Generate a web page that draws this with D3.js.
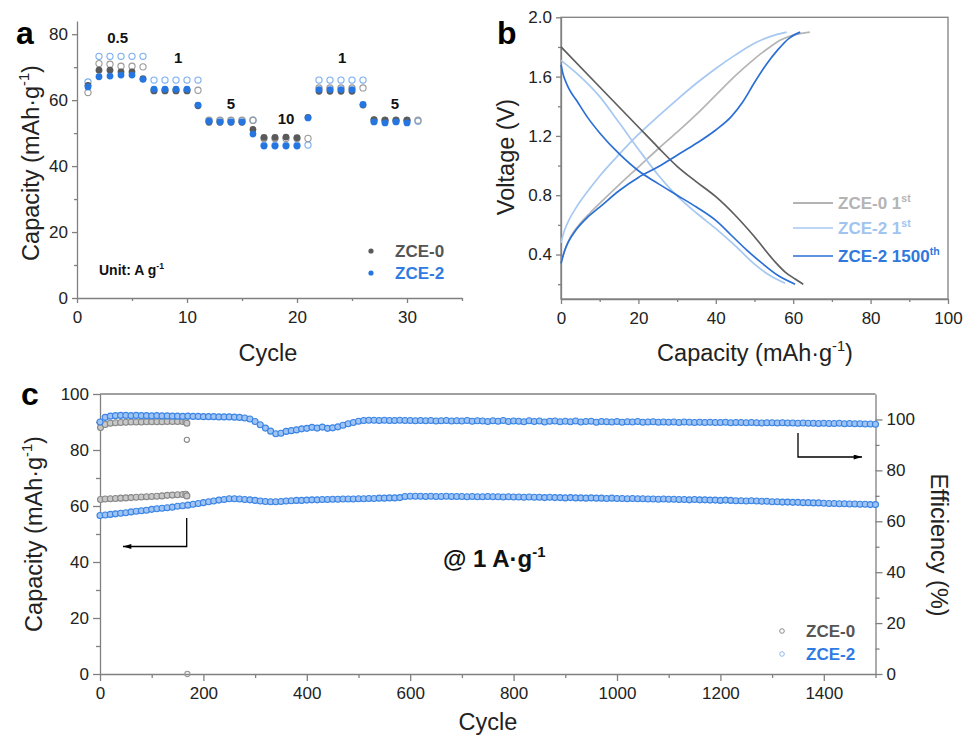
<!DOCTYPE html>
<html><head><meta charset="utf-8">
<script src="https://cdn.jsdelivr.net/npm/d3@7"></script>
<style>body{margin:0;background:#fff} svg{display:block;font-family:Arial,"Liberation Sans",Helvetica,sans-serif}</style>
</head><body><svg id="c" width="965" height="742"></svg>
<script>
// ---------------- Panel a data (rate performance) ----------------
const cyclesA = [1,2,3,4,5,6,7,8,9,10,11,12,13,14,15,16,17,18,19,20,21,22,23,24,25,26,27,28,29,30,31];
const a_zce0_fill = [64.5,69.1,69.1,68.6,68.6,66.5,62.8,62.8,62.8,62.8,58.3,53.3,53.3,53.3,53.3,51.1,48.7,48.7,48.8,48.6,54.8,62.7,62.7,62.7,62.7,58.5,54.1,53.9,53.9,53.9,null];
const a_zce2_fill = [64.0,67.1,67.3,67.6,67.6,66.3,63.3,63.3,63.3,63.3,58.5,53.6,53.4,53.4,53.4,49.7,46.1,46.1,46.1,46.1,54.6,63.2,63.2,63.2,63.2,58.7,53.4,53.1,53.4,53.1,null];
const a_zce0_open = [62.3,71.1,70.9,70.3,70.3,70.1,63.0,63.0,63.0,63.0,63.0,53.9,53.9,53.9,53.9,53.9,48.4,48.4,48.4,48.4,48.4,63.7,63.7,63.7,63.7,63.7,53.9,53.9,53.9,53.9,53.9];
const a_zce2_open = [65.5,73.3,73.3,73.3,73.3,73.3,66.1,66.1,66.1,66.1,66.1,53.8,53.8,53.8,53.8,53.9,46.3,46.3,46.3,46.3,46.4,66.1,66.1,66.1,66.1,66.1,53.6,53.6,53.6,53.6,53.6];
const rateLabels = ["0.5","1","5","10","1","5"];
const rateCycles = [3.7,9.2,14,19,24.1,28.9];
const rateValues = [77.2,71.2,57.2,52.9,71.2,57.3];

// ---------------- Panel b data (charge/discharge curves) ----------------
const b_zce0_dis = [[0,1.80],[10,1.53],[20,1.26],[25,1.125],[30,0.995],[35,0.89],[40,0.79],[45,0.665],[50,0.52],[55,0.36],[58,0.28],[60.5,0.235],[62.6,0.20]];
const b_zce0_chg = [[0,0.35],[1,0.43],[2.5,0.52],[5,0.61],[7.5,0.68],[10,0.745],[15,0.87],[20,0.99],[25,1.11],[30,1.225],[35,1.345],[40,1.475],[45,1.605],[50,1.72],[54,1.80],[57,1.85],[60,1.88],[64.3,1.90]];
const b_zce2_dis = [[0,1.71],[5,1.60],[10,1.465],[15,1.29],[20,1.11],[25,0.94],[30,0.795],[35,0.68],[40,0.575],[45,0.46],[50,0.335],[54,0.258],[57.9,0.206]];
const b_zce2_chg = [[0,0.48],[1,0.57],[2,0.63],[4,0.72],[7,0.83],[10,0.93],[15,1.075],[20,1.21],[25,1.33],[30,1.445],[35,1.555],[40,1.655],[45,1.745],[50,1.825],[54,1.87],[58.3,1.90]];
const b_zce2L_dis = [[0,1.68],[0.5,1.62],[1,1.58],[2,1.52],[4,1.44],[7,1.32],[10,1.22],[15,1.08],[20,0.965],[25,0.88],[30,0.80],[35,0.72],[40,0.63],[44,0.53],[48,0.43],[52,0.34],[56,0.26],[60.5,0.20]];
const b_zce2L_chg = [[0,0.34],[1,0.43],[2,0.49],[4,0.57],[7,0.655],[10,0.72],[15,0.83],[20,0.92],[25,0.99],[30,1.07],[35,1.15],[40,1.24],[44,1.33],[47,1.43],[50,1.56],[53,1.68],[56,1.78],[59,1.86],[61.8,1.90]];
const legendB = ["ZCE-0 1", "ZCE-2 1", "ZCE-2 1500"];
const legendBsup = ["st","st","th"];

// ---------------- Panel c data (long cycling, every 10 cycles) ----------------
const c2Cycles = d3.range(0, 1501, 10);
const c2Cap = [56.6,56.8,57.0,57.2,57.4,57.6,57.9,58.1,58.3,58.5,
 58.8,59.0,59.2,59.4,59.6,59.9,60.1,60.3,60.6,60.9,
 61.2,61.5,61.8,62.1,62.3,62.6,62.6,62.5,62.3,62.2,
 62.0,61.8,61.6,61.5,61.5,61.6,61.8,61.9,62.0,62.0,
 62.1,62.2,62.2,62.3,62.3,62.4,62.4,62.5,62.5,62.5,
 62.6,62.6,62.7,62.7,62.8,62.8,62.9,62.9,63.0,63.4,
 63.5,63.5,63.5,63.4,63.5,63.4,63.4,63.5,63.4,63.4,
 63.4,63.3,63.4,63.3,63.3,63.4,63.3,63.3,63.2,63.3,
 63.2,63.2,63.1,63.2,63.1,63.1,63.0,63.1,63.0,63.0,
 62.9,63.0,62.9,62.9,62.8,62.9,62.8,62.8,62.7,62.8,
 62.7,62.7,62.6,62.7,62.6,62.6,62.5,62.5,62.4,62.5,
 62.4,62.4,62.3,62.3,62.2,62.3,62.2,62.2,62.1,62.1,
 62.0,62.1,62.0,61.9,61.9,61.8,61.9,61.8,61.7,61.7,
 61.5,61.5,61.4,61.4,61.3,61.3,61.2,61.2,61.1,61.1,
 61.0,60.9,60.9,60.8,60.8,60.7,60.7,60.6,60.6,60.5,
 60.5];
const c2Eff = [99.0,100.8,101.3,101.5,101.6,101.6,101.5,101.6,101.5,101.5,
 101.4,101.5,101.4,101.4,101.3,101.3,101.2,101.3,101.2,101.2,
 101.1,101.1,101.1,101.0,101.0,101.0,100.9,100.8,100.6,100.2,
 99.2,97.9,96.6,95.4,94.4,94.6,95.3,95.6,95.9,96.3,
 96.5,96.9,96.6,97.0,96.5,96.7,97.1,97.7,98.3,98.8,
 99.3,99.6,99.7,99.7,99.6,99.7,99.6,99.6,99.7,99.6,
 99.6,99.5,99.6,99.5,99.6,99.4,99.5,99.6,99.4,99.5,
 99.4,99.6,99.3,99.5,99.4,99.2,99.5,99.3,99.6,99.2,
 99.4,99.3,99.1,99.5,99.2,99.4,99.0,99.3,99.4,99.1,
 99.3,99.1,99.4,99.0,99.2,99.3,98.9,99.2,99.1,99.0,
 99.2,98.9,99.1,99.0,99.2,98.9,99.0,99.1,98.9,99.0,
 98.9,99.0,98.8,99.0,98.9,98.8,98.9,98.8,98.9,98.8,
 98.8,98.9,98.7,98.8,98.8,98.7,98.8,98.7,98.6,98.7,
 98.7,98.6,98.7,98.6,98.6,98.5,98.6,98.5,98.5,98.4,
 98.5,98.4,98.4,98.5,98.3,98.4,98.3,98.3,98.2,98.2,
 98.1];
const c0Cycles = [1,10,20,30,40,50,60,70,80,90,100,110,120,130,140,150,160,166,168];
const c0Cap = [62.3,62.5,62.6,62.7,62.8,62.9,63.0,63.1,63.2,63.3,63.4,63.5,63.6,63.8,63.9,64.0,64.1,64.2,63.6];
const c0Eff = [96.8,98.0,98.5,98.7,98.8,98.9,99.0,99.0,99.0,99.1,99.1,99.1,99.1,99.2,99.2,99.2,99.2,99.2,98.5];
const c0ExtraCycles = [168,169];
const c0ExtraEff = [92.0,null];
const c0ExtraCap = [null,0];
const legendC = ["ZCE-0","ZCE-2"];

// ---------------- drawing ----------------
const svg = d3.select("#c");
const AX = "#808080", TXT = "#222";
const GRAY_F = "#5a5a5a", GRAY_O = "#9a9a9a", BLUE_F = "#2576e0", BLUE_O = "#7aaef0";
const TFS = 17, TITLE = 23.5;

function drawAxis(transform, axis, fs){
  const g = svg.append("g").attr("transform", transform).call(axis);
  g.select(".domain").attr("stroke", AX).attr("stroke-width", 1.3);
  g.selectAll(".tick line").attr("stroke", AX).attr("stroke-width", 1.3);
  g.selectAll(".tick text").attr("fill", TXT).style("font-size", (fs||TFS) + "px").style("font-family","Arial, 'Liberation Sans', sans-serif");
  return g;
}
function minorAxis(transform, axis){
  const g = svg.append("g").attr("transform", transform).call(axis.tickFormat("").tickSizeOuter(0));
  g.select(".domain").remove();
  g.selectAll(".tick line").attr("stroke", AX).attr("stroke-width", 1.3);
  return g;
}
function rich(parent, x, y, parts, fs, attrs){
  const t = parent.append("text").attr("x", x).attr("y", y).style("font-size", fs + "px");
  for (const k in (attrs||{})) t.attr(k, attrs[k]);
  let up = false;
  parts.forEach(p => {
    const ts = t.append("tspan").text(p[0]);
    if (p[1] && !up){ ts.attr("dy", -0.42*fs).style("font-size", (0.62*fs)+"px"); up = true; }
    else if (p[1]) { ts.style("font-size", (0.62*fs)+"px"); }
    else if (!p[1] && up){ ts.attr("dy", 0.42*fs); up = false; }
  });
  return t;
}
function rotTitle(x, y, angle, parts, fs){
  const g = svg.append("g").attr("transform", `translate(${x},${y}) rotate(${angle})`);
  rich(g, 0, 0, parts, fs, {"text-anchor":"middle", "fill": TXT});
}
const fmtInt = d3.format("d");

// ===== Panel a =====
const xa = d3.scaleLinear([0, 35], [77, 462]);
const ya = d3.scaleLinear([0, 84], [298, 21]);
minorAxis("translate(0,298)", d3.axisBottom(xa).tickValues([5,15,25,35]).tickSize(3));
minorAxis("translate(77,0)", d3.axisLeft(ya).tickValues([10,30,50,70]).tickSize(3));
drawAxis("translate(0,298)", d3.axisBottom(xa).tickValues([0,10,20,30]).tickFormat(fmtInt).tickSize(5).tickSizeOuter(0).tickPadding(8));
drawAxis("translate(77,0)", d3.axisLeft(ya).tickValues([0,20,40,60,80]).tickFormat(fmtInt).tickSize(5).tickSizeOuter(0).tickPadding(4));

function dotsA(vals, r, fill, stroke, sw){
  svg.append("g").selectAll("circle").data(cyclesA.map((c,i)=>[c, vals[i]]).filter(d=>d[1]!=null))
    .join("circle").attr("cx", d=>xa(d[0])).attr("cy", d=>ya(d[1])).attr("r", r)
    .attr("fill", fill).attr("stroke", stroke).attr("stroke-width", sw);
}
dotsA(a_zce2_open, 3.1, "none", BLUE_O, 1.1);
dotsA(a_zce0_open, 3.1, "none", GRAY_O, 1.1);
dotsA(a_zce0_fill, 3.4, GRAY_F, "none", 0);
dotsA(a_zce2_fill, 3.4, BLUE_F, "none", 0);

svg.append("g").selectAll("text").data(rateLabels).join("text")
  .attr("x", (d,i)=>xa(rateCycles[i])).attr("y", (d,i)=>ya(rateValues[i]))
  .attr("text-anchor","middle").attr("font-weight","bold").style("font-size","15px").attr("fill","#111").text(d=>d);

rich(svg, 99, 275, [["Unit: A g"],["-1",true]], 14, {"font-weight":"bold", "fill":"#111"});
[["ZCE-0", GRAY_F, 251],["ZCE-2", BLUE_F, 273]].forEach(([t,c,y])=>{
  svg.append("circle").attr("cx",371).attr("cy",y).attr("r",2.6).attr("fill",c);
  svg.append("text").attr("x",395).attr("y",y+6).attr("font-weight","bold").style("font-size","17px").attr("fill", c==GRAY_F? "#555":"#2f7be3").text(t);
});
rotTitle(39, 163, -90, [["Capacity (mAh·g"],["-1",true],[")"]], TITLE);
svg.append("text").attr("x",268).attr("y",361).attr("text-anchor","middle").style("font-size",TITLE+"px").attr("fill",TXT).text("Cycle");
svg.append("text").attr("x",16).attr("y",44).attr("font-weight","bold").style("font-size","32px").attr("fill","#000").text("a");

// ===== Panel b =====
const xb = d3.scaleLinear([0, 100], [561, 948]);
const yb = d3.scaleLinear([0.1, 2.0], [299, 17.3]);
svg.append("rect").attr("x",561).attr("y",17.3).attr("width",387).attr("height",299-17.3).attr("fill","none").attr("stroke",AX).attr("stroke-width",1.3);
minorAxis("translate(0,299)", d3.axisBottom(xb).tickValues([10,30,50,70,90]).tickSize(3));
minorAxis("translate(561,0)", d3.axisLeft(yb).tickValues([0.2,0.6,1.0,1.4,1.8]).tickSize(3));
drawAxis("translate(0,299)", d3.axisBottom(xb).tickValues([0,20,40,60,80,100]).tickFormat(fmtInt).tickSize(5).tickSizeOuter(0).tickPadding(8));
drawAxis("translate(561,0)", d3.axisLeft(yb).tickValues([0.4,0.8,1.2,1.6,2.0]).tickFormat(d3.format(".1f")).tickSize(5).tickSizeOuter(0).tickPadding(4));
const lineB = d3.line().x(d=>xb(d[0])).y(d=>yb(d[1])).curve(d3.curveMonotoneX);
const curvesB = [[b_zce0_chg,"#b5b5b5"],[b_zce2_chg,"#a6c8f1"],[b_zce2_dis,"#a6c8f1"],[b_zce0_dis,"#5e5e5e"],[b_zce2L_chg,"#2b6fd5"],[b_zce2L_dis,"#2b6fd5"]];
curvesB.forEach(([d,c])=> svg.append("path").attr("d", lineB(d)).attr("fill","none").attr("stroke",c).attr("stroke-width",1.7));
const legBcols = [["#9a9a9a","#b4b4b4"],["#a6c8f1","#9fc4ef"],["#2b6fd5","#2f78dd"]];
[203,228,256].forEach((y,i)=>{
  svg.append("line").attr("x1",793).attr("x2",833).attr("y1",y).attr("y2",y).attr("stroke",legBcols[i][0]).attr("stroke-width",1.7);
  rich(svg, 838, y+6, [[legendB[i]],[legendBsup[i],true]], 17, {"font-weight":"bold","fill":legBcols[i][1]});
});
rotTitle(514, 157, -90, [["Voltage (V)"]], TITLE);
rich(svg, 755, 361, [["Capacity (mAh·g"],["-1",true],[")"]], TITLE, {"text-anchor":"middle","fill":TXT});
svg.append("text").attr("x",497).attr("y",44).attr("font-weight","bold").style("font-size","32px").attr("fill","#000").text("b");

// ===== Panel c =====
const xc = d3.scaleLinear([0, 1500], [100, 875.5]);
const ycL = d3.scaleLinear([0, 100], [674, 394]);
const ycR = d3.scaleLinear([0, 110], [674, 394]);
svg.append("line").attr("x1",100).attr("x2",875.5).attr("y1",394).attr("y2",394).attr("stroke",AX).attr("stroke-width",1.3);
minorAxis("translate(0,674)", d3.axisBottom(xc).tickValues([100,300,500,700,900,1100,1300,1500]).tickSize(4));
minorAxis("translate(100,0)", d3.axisLeft(ycL).tickValues([10,30,50,70,90]).tickSize(4));
minorAxis("translate(875.5,0)", d3.axisRight(ycR).tickValues([10,30,50,70,90]).tickSize(4));
drawAxis("translate(0,674)", d3.axisBottom(xc).tickValues([0,200,400,600,800,1000,1200,1400]).tickFormat(fmtInt).tickSize(7).tickSizeOuter(0).tickPadding(6));
drawAxis("translate(100,0)", d3.axisLeft(ycL).tickValues([0,20,40,60,80,100]).tickFormat(fmtInt).tickSize(7).tickSizeOuter(0).tickPadding(4));
drawAxis("translate(875.5,0)", d3.axisRight(ycR).tickValues([0,20,40,60,80,100]).tickFormat(fmtInt).tickSize(7).tickSizeOuter(0).tickPadding(4));

function dotsC(cyc, vals, scale, stroke, fill, r){
  svg.append("g").selectAll("circle").data(cyc.map((c,i)=>[c, vals[i]]).filter(d=>d[1]!=null))
    .join("circle").attr("cx", d=>xc(d[0])).attr("cy", d=>scale(d[1])).attr("r", r||3)
    .attr("fill", fill).attr("stroke", stroke).attr("stroke-width", 1.1);
}
dotsC(c0Cycles, c0Cap, ycL, "#888", "#c8c8c8");
dotsC(c0Cycles, c0Eff, ycR, "#888", "#c8c8c8");
dotsC(c0ExtraCycles, c0ExtraEff, ycR, "#888", "none", 2.6);
dotsC(c0ExtraCycles, c0ExtraCap, ycL, "#9a9a9a", "none", 2.6);
dotsC(c2Cycles, c2Cap, ycL, "#3a84e4", "#9fc4f4");
dotsC(c2Cycles, c2Eff, ycR, "#3a84e4", "#9fc4f4");

svg.append("defs").append("marker").attr("id","ah").attr("viewBox","0 0 10 6").attr("refX",10).attr("refY",3)
  .attr("markerWidth",16).attr("markerHeight",5).attr("markerUnits","userSpaceOnUse").attr("orient","auto")
  .append("path").attr("d","M0,0 L10,3 L0,6 Z").attr("fill","#000");
svg.append("path").attr("d","M186.7,518 V546.5 H123").attr("fill","none").attr("stroke","#000").attr("stroke-width",1.3).attr("marker-end","url(#ah)");
svg.append("path").attr("d","M798,433 V457 H862").attr("fill","none").attr("stroke","#000").attr("stroke-width",1.3).attr("marker-end","url(#ah)");

rich(svg, 443, 567, [["@ 1 A·g"],["-1",true]], 24, {"font-weight":"bold","fill":"#111"});
[[legendC[0],"#8a8a8a","#555",631],[legendC[1],"#8fb9ef","#2f7be3",654]].forEach(([t,c,tc,y])=>{
  svg.append("circle").attr("cx",782).attr("cy",y).attr("r",2.3).attr("fill","none").attr("stroke",c).attr("stroke-width",1);
  svg.append("text").attr("x",806).attr("y",y+6).attr("font-weight","bold").style("font-size","17px").attr("fill",tc).text(t);
});
rotTitle(42, 534, -90, [["Capacity (mAh·g"],["-1",true],[")"]], TITLE);
rotTitle(931, 545, 90, [["Efficiency (%)"]], TITLE);
svg.append("text").attr("x",488).attr("y",730).attr("text-anchor","middle").style("font-size",TITLE+"px").attr("fill",TXT).text("Cycle");
svg.append("text").attr("x",21).attr("y",405).attr("font-weight","bold").style("font-size","32px").attr("fill","#000").text("c");
</script></body></html>
